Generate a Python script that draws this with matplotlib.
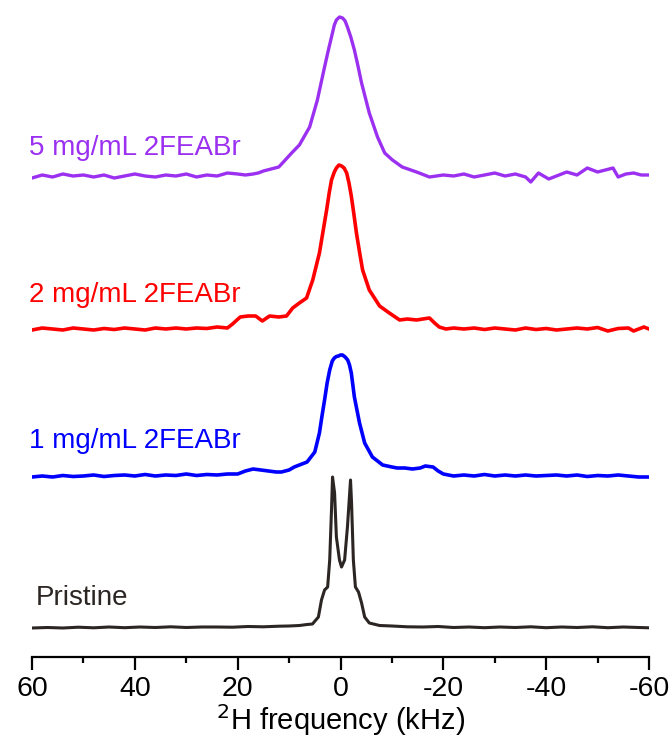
import matplotlib
matplotlib.use("Agg")
import matplotlib.pyplot as plt
from matplotlib.ticker import MultipleLocator

plt.rcParams['font.family'] = ['Liberation Sans', 'DejaVu Sans']
plt.rcParams['axes.unicode_minus'] = False

# Spectra: frequency (kHz) and intensity above own baseline
pristine_f = [60, 57, 54, 51, 48, 45, 42, 39, 36, 33, 30, 27, 24, 21, 18, 15, 12, 10, 8, 6.5,
              5.45, 4.3, 3.7, 3.1, 2.5, 2.1, 1.75, 1.55, 1.15, 0.8, 0.2, -0.2, -0.8, -1.35,
              -1.95, -2.15, -2.5, -2.9, -3.5, -4.1, -4.7, -5.6, -7.6, -10, -13, -16, -19, -22,
              -25, -28, -31, -34, -37, -40, -43, -46, -49, -52, -55, -58, -60]
pristine_i = [0, 0.5, 0, 0.8, 0.2, 1, 0.3, 1, 0.5, 1.2, 0.5, 1, 1, 0.8, 1.5, 1.2, 1.8, 2, 2.5, 3.5,
              4, 11, 28, 38, 41, 68, 118, 151, 135, 91, 68, 61, 68, 101,
              148, 125, 68, 41, 36, 25, 11, 5, 2.5, 2, 1.2, 1, 1.5, 0.5,
              1, 0.3, 1, 0.5, 1.2, 0.3, 1, 0.5, 1.2, 0.3, 1, 0.5, 0.2]

blue_f = [60, 58, 56, 54, 52, 50, 48, 46, 44, 42, 40, 38, 36, 34, 32, 30, 28, 26, 24, 22, 20,
          18.5, 17, 15.5, 14, 12.5, 11.5, 10, 9, 7.5, 6.5, 5, 4.1, 3.6, 3.1, 2.6, 2.1, 1.6,
          1.2, 0.8, 0.4, 0, -0.4, -0.9, -1.4, -1.75, -2.1, -2.7, -3.7, -4.7, -6.2, -8.2, -10,
          -11, -12.5, -14, -15.5, -16.5, -18, -19, -20, -21, -22, -24, -26, -28, -30, -32,
          -34, -36, -38, -40, -42, -44, -46, -48, -50, -52, -54, -56, -58, -60]
blue_i = [0, 1, 0, 1.5, 0.5, 1, 2, 0.5, 1.5, 2, 1, 2.5, 1, 2, 1.5, 3, 1.5, 2.5, 2, 3, 3,
          6, 8, 7, 6, 5, 5, 7, 10, 13, 15, 25, 44, 61, 77, 94, 107, 116,
          119, 120.5, 121, 122, 122, 120, 117, 112, 104, 80, 54, 34, 20, 12, 10,
          9, 9, 8, 9, 11, 10, 6, 3, 2, 1, 2, 1, 2.5, 1, 2,
          1, 2, 1, 1.5, 2, 1, 2, 0.5, 1.5, 1, 2, 1, 0, 0]

red_f = [60, 58, 56, 54, 52, 50, 48, 46, 44, 42, 40, 38, 36, 34, 32, 30, 28, 26, 24, 22, 21,
         19.5, 18, 16.5, 15.2, 13.8, 12, 10.5, 9.3, 8, 6.6, 5.4, 4.1, 2.7, 2.2, 1.75, 1.2,
         0.8, 0.3, -0.2, -0.7, -1.2, -1.65, -2.1, -2.6, -3.1, -3.7, -4.3, -5.6, -7.6, -9.5,
         -11.5, -13, -14.8, -16, -17.3, -18.3, -19.2, -20.5, -22, -24, -26, -28, -30, -32,
         -34, -36, -38, -40, -42, -44, -46, -48, -50, -52, -54, -56, -57, -58, -59, -60]
red_i = [0, 2, 1, 0, 2, 1, 0, 1.5, 0.5, 2, 1, 0, 2, 1, 2, 1, 2, 1.5, 3, 2, 6,
         13, 14, 14, 9, 14, 13, 14, 22, 27, 32, 50, 77, 120, 137, 150, 158,
         162, 165, 164, 162, 157, 147, 134, 116, 97, 78, 60, 40, 24, 17,
         10, 11, 10, 11, 12, 7, 3, 1, 2, 1, 2, 0.5, 2, 1,
         0, 2, 0.5, 1.5, 0, 1, 2, 1, 2.5, -1, 1.5, 2, -1, 1, 3, 1]

purple_f = [60, 58, 56, 54, 52, 50, 48, 46, 44, 42, 40, 38, 36, 34, 32, 30, 28, 26, 24, 22, 20,
            18.5, 17, 16, 15, 12, 9.5, 8, 6, 4.5, 3.1, 2.4, 1.75, 1.2, 0.8, 0.2, -0.4, -0.9,
            -1.35, -2.0, -2.7, -3.4, -4.1, -5.6, -7.2, -8.6, -10.1, -12, -14.8, -17.3, -20,
            -22, -24, -26, -28, -30, -32, -34, -36, -37, -38.5, -40.5, -42, -44, -46, -48, -50,
            -51.5, -53, -54, -55.5, -57, -58.5, -60]
purple_i = [0, 3, 1, 4, 2, 3, 1, 3, 0, 2, 4, 2, 1, 3, 2, 4, 1, 3, 2, 5, 4,
            3, 4, 5, 7, 11, 25, 33, 51, 78, 111, 127, 141, 153, 158, 161, 160, 157,
            151, 141, 128, 112, 95, 65, 41, 25, 18, 11, 6, 1, 3,
            2, 4, 1, 3, 5, 2, 4, 1, -4, 5, -1, 2, 6, 3, 10, 6,
            8, 10, 1, 4, 5, 3, 3]

labels = ['Pristine', '1 mg/mL 2FEABr', '2 mg/mL 2FEABr', '5 mg/mL 2FEABr']
colors = ['#2b2523', '#0000ff', '#ff0000', '#9b30f0']
offsets = [0, 151, 298, 450]

fig = plt.figure(figsize=(6.69, 7.42), dpi=100)
ax = fig.add_axes([32 / 669, 85 / 742, 617 / 669, 647 / 742])

traces = [(pristine_f, pristine_i), (blue_f, blue_i), (red_f, red_i), (purple_f, purple_i)]
widths = [2.2, 2.6, 2.6, 2.4]
for (f, inten), off, c, lw in zip(traces, offsets, colors, widths):
    ax.plot(f, [v + off for v in inten], color=c, lw=lw, solid_joinstyle='round')

# labels sit to the left, above each baseline
ax.text(59.3, 30, labels[0], color=colors[0], fontsize=20, va='center', ha='left')
ax.text(60.6, 187, labels[1], color=colors[1], fontsize=20, va='center', ha='left')
ax.text(60.6, 333, labels[2], color=colors[2], fontsize=20, va='center', ha='left')
ax.text(60.6, 480, labels[3], color=colors[3], fontsize=20, va='center', ha='left')

ax.set_xlim(60, -60)
ax.set_ylim(-29, 618)
ax.set_xticks([60, 40, 20, 0, -20, -40, -60])
ax.xaxis.set_minor_locator(MultipleLocator(10))
ax.tick_params(axis='x', which='major', length=9, width=1.6, labelsize=20.5, pad=5, direction='out')
ax.tick_params(axis='x', which='minor', length=4, width=1.6, direction='out')
ax.set_yticks([])
for s in ['left', 'right', 'top']:
    ax.spines[s].set_visible(False)
ax.spines['bottom'].set_linewidth(1.6)
ax.spines['bottom'].set_bounds(60, -60)
ax.set_xlabel(r'$^{2}$H frequency (kHz)', fontsize=21, labelpad=0)
ax.patch.set_alpha(0)

fig.savefig('out.png', dpi=100)
plt.close()
